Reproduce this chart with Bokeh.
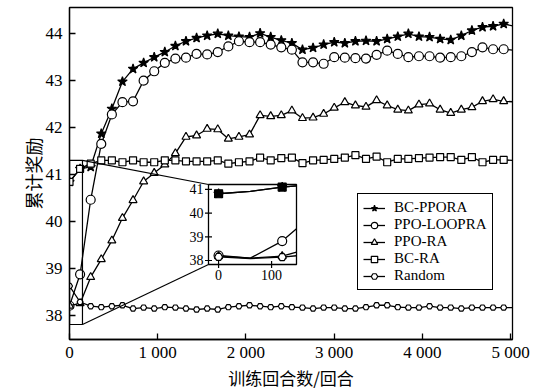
import math
from bokeh.plotting import figure
from bokeh.models import (Range1d, Legend, LegendItem, ColumnDataSource, CDSView,
                          IndexFilter, FixedTicker)
from bokeh.embed import file_html
from bokeh.resources import INLINE
from bokeh.core.properties import value

# ---------------- data ----------------
episodes = [0, 120, 240, 360, 480, 600, 720, 840, 960, 1080, 1200, 1320, 1440, 1560,
            1680, 1800, 1920, 2040, 2160, 2280, 2400, 2520, 2640, 2760, 2880, 3000,
            3120, 3240, 3360, 3480, 3600, 3720, 3840, 3960, 4080, 4200, 4320, 4440,
            4560, 4680, 4800, 4920, 5020]

bc_ppora = [40.84, 41.12, 41.16, 41.87, 42.40, 42.98, 43.25, 43.38, 43.50, 43.61, 43.74,
            43.84, 43.91, 43.96, 44.00, 43.96, 43.94, 43.93, 44.01, 43.93, 43.86, 43.80,
            43.66, 43.70, 43.77, 43.82, 43.80, 43.84, 43.85, 43.84, 43.89, 43.94, 44.00,
            43.94, 43.93, 43.89, 43.87, 43.96, 44.07, 44.14, 44.16, 44.21, 44.17]
ppo_loopra = [38.20, 38.87, 40.46, 41.65, 42.28, 42.54, 42.56, 43.00, 43.20, 43.38, 43.47,
              43.49, 43.57, 43.56, 43.61, 43.73, 43.84, 43.82, 43.82, 43.77, 43.71, 43.66,
              43.39, 43.39, 43.36, 43.50, 43.49, 43.48, 43.47, 43.55, 43.64, 43.57, 43.50,
              43.52, 43.52, 43.49, 43.50, 43.52, 43.61, 43.71, 43.67, 43.67, 43.65]
ppo_ra = [38.20, 38.25, 38.81, 39.19, 39.59, 40.07, 40.45, 40.85, 41.03, 41.21, 41.45,
          41.80, 41.83, 41.97, 41.96, 41.76, 41.80, 41.85, 42.26, 42.24, 42.26, 42.36,
          42.20, 42.21, 42.29, 42.42, 42.54, 42.47, 42.44, 42.58, 42.47, 42.38, 42.36,
          42.49, 42.51, 42.38, 42.31, 42.38, 42.43, 42.56, 42.60, 42.56, 42.55]
bc_ra = [40.84, 41.12, 41.23, 41.30, 41.30, 41.26, 41.30, 41.26, 41.26, 41.30, 41.30,
         41.28, 41.28, 41.28, 41.30, 41.23, 41.26, 41.28, 41.36, 41.30, 41.35, 41.36,
         41.24, 41.30, 41.31, 41.33, 41.36, 41.41, 41.33, 41.38, 41.26, 41.33, 41.33,
         41.35, 41.36, 41.37, 41.37, 41.31, 41.37, 41.26, 41.31, 41.31, 41.30]
random_ = [38.62, 38.28, 38.19, 38.17, 38.19, 38.21, 38.14, 38.16, 38.14, 38.17, 38.16,
           38.14, 38.12, 38.14, 38.12, 38.17, 38.19, 38.21, 38.19, 38.17, 38.19, 38.17,
           38.16, 38.14, 38.16, 38.16, 38.14, 38.14, 38.17, 38.21, 38.21, 38.17, 38.16,
           38.16, 38.19, 38.16, 38.16, 38.14, 38.16, 38.16, 38.16, 38.16, 38.16]
n_marked = 42  # the last point only closes the line at the frame edge

labels = ["BC-PPORA", "PPO-LOOPRA", "PPO-RA", "BC-RA", "Random"]

x_ticks = [0, 1000, 2000, 3000, 4000, 5000]
x_tick_labels = ["0", "1 000", "2 000", "3 000", "4 000", "5 000"]
y_ticks = [38, 39, 40, 41, 42, 43, 44]

# inset (zoom of the first episodes)
inset_x = [0, 60, 120, 147]
inset_bc_ppora = [40.82, 40.92, 41.10, 41.15]
inset_ppo_loopra = [38.21, 38.10, 38.82, 39.34]
inset_ppo_ra = [38.18, 38.10, 38.18, 38.35]
inset_bc_ra = [40.82, 40.92, 41.10, 41.15]
inset_random = [38.15, 38.08, 38.14, 38.20]
inset_marked = [0, 2]
inset_x_ticks = [0, 100]
inset_y_ticks = [38, 39, 40, 41]
inset_x_lim = (-19, 147)
inset_y_lim = (37.83, 41.21)
zoom_box_x = (0, 147)
zoom_box_y = (37.8, 41.3)

# ---------------- layout ----------------
X_LIM = (0, 5020)
Y_LIM = (37.48, 44.56)
FW, FH = 443, 332
# inset box position inside the frame, in pixels from the frame's left / top
IB_LEFT, IB_RIGHT, IB_TOP, IB_BOTTOM = 139, 227, 177, 257

SERIF = "Liberation Serif"
CJK = "Noto Sans CJK SC"

p = figure(frame_width=FW, frame_height=FH, x_range=Range1d(*X_LIM), y_range=Range1d(*Y_LIM),
           output_backend="svg", toolbar_location=None,
           min_border_left=69, min_border_right=26, min_border_top=7, min_border_bottom=51,
           background_fill_color="white", border_fill_color="white")
p.xgrid.visible = False
p.ygrid.visible = False
p.outline_line_color = "black"
p.outline_line_width = 1.3
p.outline_line_alpha = 1.0

for ax in (p.xaxis[0], p.yaxis[0]):
    ax.major_tick_in = 6
    ax.major_tick_out = 0
    ax.minor_tick_line_color = None
    ax.axis_line_width = 1.3
    ax.major_tick_line_width = 1.3
    ax.axis_line_color = "black"
    ax.major_tick_line_color = "black"
    ax.major_label_text_font = SERIF
    ax.major_label_text_color = "black"
    ax.axis_label_text_font = CJK
    ax.axis_label_text_font_style = "normal"
    ax.axis_label_text_color = "black"

p.xaxis.ticker = FixedTicker(ticks=x_ticks)
p.xaxis.major_label_overrides = {t: l for t, l in zip(x_ticks, x_tick_labels)}
p.xaxis.major_label_text_font_size = "17px"
p.xaxis.major_label_standoff = 3
p.xaxis.axis_label = "训练回合数/回合"
p.xaxis.axis_label_text_font_size = "17px"
p.xaxis.axis_label_standoff = 0

p.yaxis.ticker = FixedTicker(ticks=y_ticks)
p.yaxis.major_label_text_font_size = "17px"
p.yaxis.major_label_standoff = 7
p.yaxis.axis_label = "累计奖励"
p.yaxis.axis_label_text_font_size = "18px"
p.yaxis.axis_label_standoff = -3

# ---------------- main series ----------------
styles = {
    "BC-PPORA": dict(marker="star", size=10, fill_color="black"),
    "PPO-LOOPRA": dict(marker="circle", size=9, fill_color="white"),
    "PPO-RA": dict(marker="triangle", size=8, fill_color="white"),
    "BC-RA": dict(marker="square", size=7, fill_color="white"),
    "Random": dict(marker="hex", size=6, fill_color="white"),
}
main_values = [bc_ppora, ppo_loopra, ppo_ra, bc_ra, random_]

items = []
view = CDSView(filter=IndexFilter(list(range(n_marked))))
for lab, vals in zip(labels, main_values):
    src = ColumnDataSource(dict(x=episodes, y=vals))
    st = styles[lab]
    lr = p.line("x", "y", source=src, line_color="black", line_width=1.3)
    sr = p.scatter("x", "y", source=src, view=view, marker=st["marker"], size=st["size"],
                   fill_color=st["fill_color"], line_color="black", line_width=1.2)
    items.append(LegendItem(label=lab, renderers=[lr, sr]))

# ---------------- zoom box + inset ----------------
fx0, fx1 = IB_LEFT / FW, IB_RIGHT / FW
fy0, fy1 = (FH - IB_BOTTOM) / FH, (FH - IB_TOP) / FH
ix_span = (inset_x_lim[1] - inset_x_lim[0]) / (fx1 - fx0)
iy_span = (inset_y_lim[1] - inset_y_lim[0]) / (fy1 - fy0)
ix_start = inset_x_lim[0] - fx0 * ix_span
iy_start = inset_y_lim[0] - fy0 * iy_span
p.extra_x_ranges = {"ix": Range1d(ix_start, ix_start + ix_span)}
p.extra_y_ranges = {"iy": Range1d(iy_start, iy_start + iy_span)}

# inset corners expressed in main data units (for connector lines)
mx_left = X_LIM[0] + fx0 * (X_LIM[1] - X_LIM[0])
my_top = Y_LIM[0] + fy1 * (Y_LIM[1] - Y_LIM[0])
my_bot = Y_LIM[0] + fy0 * (Y_LIM[1] - Y_LIM[0])

p.quad(left=zoom_box_x[0], right=zoom_box_x[1], bottom=zoom_box_y[0], top=zoom_box_y[1],
       fill_alpha=0, line_color="black", line_width=1.2)
p.segment(x0=[zoom_box_x[1], zoom_box_x[1]], y0=[zoom_box_y[1], zoom_box_y[0]],
          x1=[mx_left, mx_left], y1=[my_top, my_bot], line_color="black", line_width=1.2)

rn = dict(x_range_name="ix", y_range_name="iy")
p.quad(left=inset_x_lim[0], right=inset_x_lim[1], bottom=inset_y_lim[0], top=inset_y_lim[1],
       fill_color="white", line_color="black", line_width=1.3, **rn)

inset_values = [inset_bc_ppora, inset_ppo_loopra, inset_ppo_ra, inset_bc_ra, inset_random]
inset_fill = {"BC-PPORA": "black", "PPO-LOOPRA": "white", "PPO-RA": "white",
              "BC-RA": "black", "Random": "white"}
iview = CDSView(filter=IndexFilter(inset_marked))
for lab, vals in zip(labels, inset_values):
    src = ColumnDataSource(dict(x=inset_x, y=vals))
    st = styles[lab]
    p.line("x", "y", source=src, line_color="black", line_width=1.3, **rn)
    p.scatter("x", "y", source=src, view=iview, marker=st["marker"], size=max(st["size"], 8),
              fill_color=inset_fill[lab], line_color="black", line_width=1.2, **rn)

# inset ticks and tick labels
p.scatter(x=inset_x_ticks, y=[inset_y_lim[0]] * len(inset_x_ticks), marker="dash", size=7,
          angle=math.pi / 2, line_color="black", line_width=1.2, **rn)
p.scatter(x=[inset_x_lim[0]] * len(inset_y_ticks), y=inset_y_ticks, marker="dash", size=7,
          line_color="black", line_width=1.2, **rn)
p.text(x=inset_x_ticks, y=[inset_y_lim[0]] * len(inset_x_ticks),
       text=[str(t) for t in inset_x_ticks], text_font=value(SERIF), text_font_size="14px",
       text_align="center", text_baseline="top", y_offset=5, text_color="black", **rn)
p.text(x=[inset_x_lim[0]] * len(inset_y_ticks), y=inset_y_ticks,
       text=[str(t) for t in inset_y_ticks], text_font=value(SERIF), text_font_size="14px",
       text_align="right", text_baseline="middle", x_offset=-5, text_color="black", **rn)

# ---------------- legend ----------------
legend = Legend(items=items, location=(288, 49), orientation="vertical",
                label_text_font=SERIF, label_text_font_size="15px", label_text_color="black",
                glyph_width=22, glyph_height=16, label_height=16, label_standoff=9,
                padding=5, spacing=0, margin=0,
                border_line_color="black", border_line_width=1.2, border_line_alpha=1.0,
                background_fill_color="white", background_fill_alpha=1.0)
p.add_layout(legend)

open("out.html", "w").write(file_html(p, INLINE))
